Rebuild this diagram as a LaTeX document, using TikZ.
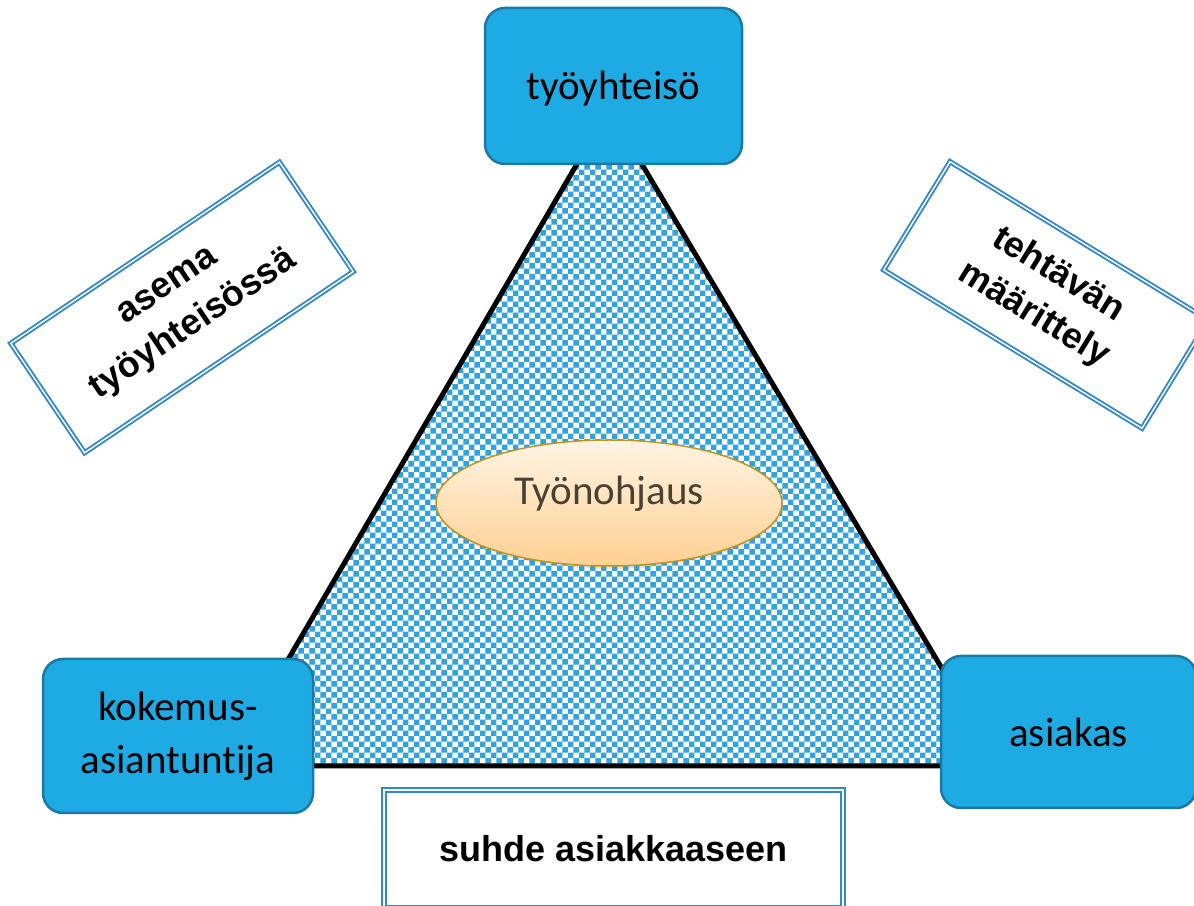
\documentclass[tikz,border=0pt]{standalone}
\usepackage{fontspec}
\setmainfont{Carlito}[Ligatures=NoCommon]
\newfontfamily\arialfont{Liberation Sans}
\usepackage{xcolor}
\usepackage{tikz}
\usetikzlibrary{shapes.geometric,patterns,shadows}

\definecolor{boxblue}{RGB}{30,171,227}
\definecolor{boxedge}{RGB}{26,122,165}
\definecolor{frameblue}{RGB}{52,136,202}
\definecolor{dotblue}{RGB}{48,163,224}
\definecolor{ovaltop}{RGB}{255,244,228}
\definecolor{ovalbot}{RGB}{255,208,145}
\definecolor{ovaledge}{RGB}{196,148,28}
\definecolor{ovaltext}{RGB}{72,66,52}

\begin{document}
\begin{tikzpicture}[x=1pt, y=1pt, every text node part/.style={align=center}]
			\tikzstyle{actor} = [draw=boxedge, line width=2.5pt, fill=boxblue, rounded corners=20pt, inner sep=0pt, font=\fontsize{41}{53}\selectfont]
			\tikzstyle{aspect} = [draw=frameblue, line width=1.9pt, double=white, double distance=1.4pt, inner sep=0pt, font=\arialfont\bfseries\fontsize{36}{47}\selectfont]
			\tikzstyle{core} = [ellipse, draw=ovaledge, line width=1.5pt, top color=ovaltop, bottom color=ovalbot, text=ovaltext, inner sep=0pt, font=\fontsize{41}{50}\selectfont, drop shadow={opacity=0.2, shadow xshift=1pt, shadow yshift=-3pt}]
			\useasboundingbox (0, 0) rectangle (1194, 905);

			\coordinate (apex) at (609, 796);
			\coordinate (base-l) at (226, 139);
			\coordinate (base-r) at (1000, 139);
			\path[draw, line width=5pt, pattern=checkerboard, pattern color=dotblue] (apex) -- (base-l) -- (base-r) -- cycle;

			\path (613.5, 819) node[actor, text height=28pt, text depth=0pt, minimum width=257, minimum height=156] (yhteiso) {työyhteisö};
			\path (178, 169) node[actor, minimum width=270, minimum height=154] (kokemus) {kokemus-\\asiantuntija};
			\path (1068.5, 173) node[actor, minimum width=255, minimum height=152] (asiakas) {asiakas};

			\path (609, 402) node[core, text height=28pt, text depth=25pt, minimum width=346, minimum height=126] (ohjaus) {Työnohjaus};

			\path (182, 597.5) node[aspect, rotate=34, minimum width=324, minimum height=132] (asema) {asema\\työyhteisössä};
			\path (1046, 610) node[aspect, rotate=-31.5, minimum width=303, minimum height=127] (tehtava) {tehtävän\\määrittely};
			\path (613.5, 56) node[aspect, minimum width=459, minimum height=118] (suhde) {suhde asiakkaaseen};
		\end{tikzpicture}
\end{document}
